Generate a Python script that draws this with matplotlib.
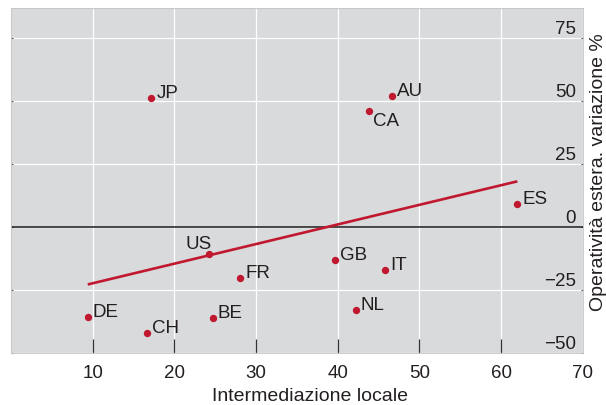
import numpy as np
import matplotlib
matplotlib.use("Agg")
from matplotlib import pyplot as plt

# Data
countries = ['JP', 'AU', 'CA', 'ES', 'US', 'GB', 'IT', 'FR', 'NL', 'DE', 'BE', 'CH']
local_interm = [17.2, 46.6, 43.8, 62.0, 24.3, 39.7, 45.8, 28.05, 42.2, 9.4, 24.7, 16.7]
foreign_change = [51.3, 52.2, 46.0, 9.0, -10.8, -13.1, -17.2, -20.4, -33.0, -35.7, -36.2, -42.0]
x_ticks = [10, 20, 30, 40, 50, 60, 70]
y_ticks = [-50, -25, 0, 25, 50, 75]

RED = '#c0182f'
TXT = '#231f20'

plt.rcParams['font.family'] = ['Liberation Sans', 'DejaVu Sans']
plt.rcParams['font.size'] = 13.5

fig = plt.figure(figsize=(6.06, 4.05), dpi=100)
ax = fig.add_axes([0.01815, 0.12914, 0.9434, 0.85037])
ax.set_facecolor('#d9dadc')

ax.set_xlim(0, 70)
ax.set_ylim(-50, 87)

# grid
ax.set_xticks(x_ticks)
ax.set_yticks(y_ticks)
ax.grid(True, color='white', linewidth=0.9, zorder=0)
ax.set_axisbelow(True)
ax.axhline(0, color='#1a1a1a', linewidth=1.1, zorder=2)

for s in ax.spines.values():
    s.set_color('#c4c4c4')
    s.set_linewidth(0.6)

# regression line
x = np.array(local_interm)
y = np.array(foreign_change)
slope, icpt = np.polyfit(x, y, 1)
xs = np.array([x.min(), x.max()])
ax.plot(xs, icpt + slope * xs, color=RED, linewidth=1.9, zorder=3, solid_capstyle='butt')

ax.scatter(x, y, s=28, color=RED, zorder=4, linewidths=0)

# label placement: default right of the dot, a few exceptions
special = {'CA': ((3, -1), 'left', 'top'), 'US': ((2, 3.5), 'right', 'baseline')}
for c, xi, yi in zip(countries, x, y):
    off, ha, va = special.get(c, ((3.6, 0), 'left', 'baseline'))
    ax.annotate(c, (xi, yi), xytext=off, textcoords='offset points',
                ha=ha, va=va, color=TXT, fontsize=13.5, zorder=5)

# x axis
ax.tick_params(axis='x', direction='in', length=10, width=0.9, color='#333333',
               pad=8.5, labelcolor=TXT, labelsize=13.5)
ax.xaxis.get_major_ticks()[-1].tick1line.set_visible(False)
ax.set_xlabel('Intermediazione locale', color=TXT, fontsize=14)
ax.xaxis.set_label_coords(0.523, -0.128)
ax.xaxis.label.set_va('center')

# y axis, labels inside on the right
ax.tick_params(axis='y', direction='in', length=1.5, width=0.8, color='#555555',
               left=True, right=True, labelleft=False, labelright=True,
               pad=-4.8, labelcolor=TXT, labelsize=13.5)
for lbl in ax.get_yticklabels():
    lbl.set_horizontalalignment('right')
    lbl.set_verticalalignment('bottom')
ax.set_ylabel('Operatività estera. variazione %', color=TXT, fontsize=14)
ax.yaxis.set_label_position('right')
ax.yaxis.set_label_coords(1.013, 0.523)

fig.savefig('out.png', dpi=100)
